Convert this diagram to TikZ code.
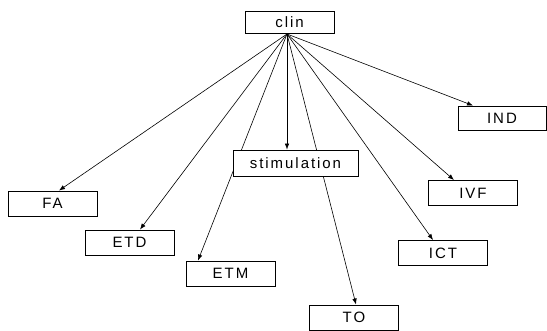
\documentclass[tikz,border=0pt]{standalone}
\usepackage{fontspec}
\newfontfamily\boxfont{Liberation Sans}[LetterSpace=13]
\usetikzlibrary{arrows.meta,backgrounds}

\begin{document}
\begin{tikzpicture}[x=1pt,y=-1pt,
        box/.style={draw,line width=0.9pt,fill=white,inner sep=0pt,
            minimum width=89pt,minimum height=25pt,
            font=\boxfont\fontsize{15}{18}\selectfont},
        link/.style={line width=0.6pt,-{Latex[length=6pt,width=4.5pt]}}]
            \useasboundingbox (0,0) rectangle (547,331);
            \node (clin) at (289.5,22) [box,minimum height=22pt] {clin};
            \node (fa) at (52.5,203.5) [box] {FA};
            \node (etd) at (129.5,242.5) [box] {ETD};
            \node (etm) at (230.5,273.5) [box] {ETM};
            \node (stim) at (295.5,163) [box,minimum width=125pt,minimum height=26pt] {stimulation};
            \node (ind) at (502,118) [box,minimum width=88pt,minimum height=24pt] {IND};
            \node (ivf) at (473,193) [box] {IVF};
            \node (ict) at (443,253) [box] {ICT};
            \node (to) at (354,317.5) [box] {TO};
            \coordinate (hub) at (287,34);
            \begin{scope}[on background layer]
            \draw[link] (hub) -- ([xshift=6.5pt]fa.north);
            \draw[link] (hub) -- ([xshift=10.5pt]etd.north);
            \draw[link] (hub) -- ([xshift=-32.5pt]etm.north);
            \draw[link] (hub) -- ([xshift=-8.5pt]stim.north);
            \draw[link] (hub) -- ([xshift=2pt]to.north);
            \draw[link] (hub) -- ([xshift=-10pt]ict.north);
            \draw[link] (hub) -- ([xshift=-19pt]ivf.north);
            \draw[link] (hub) -- ([xshift=-29pt]ind.north);
            \end{scope}
        \end{tikzpicture}
\end{document}
